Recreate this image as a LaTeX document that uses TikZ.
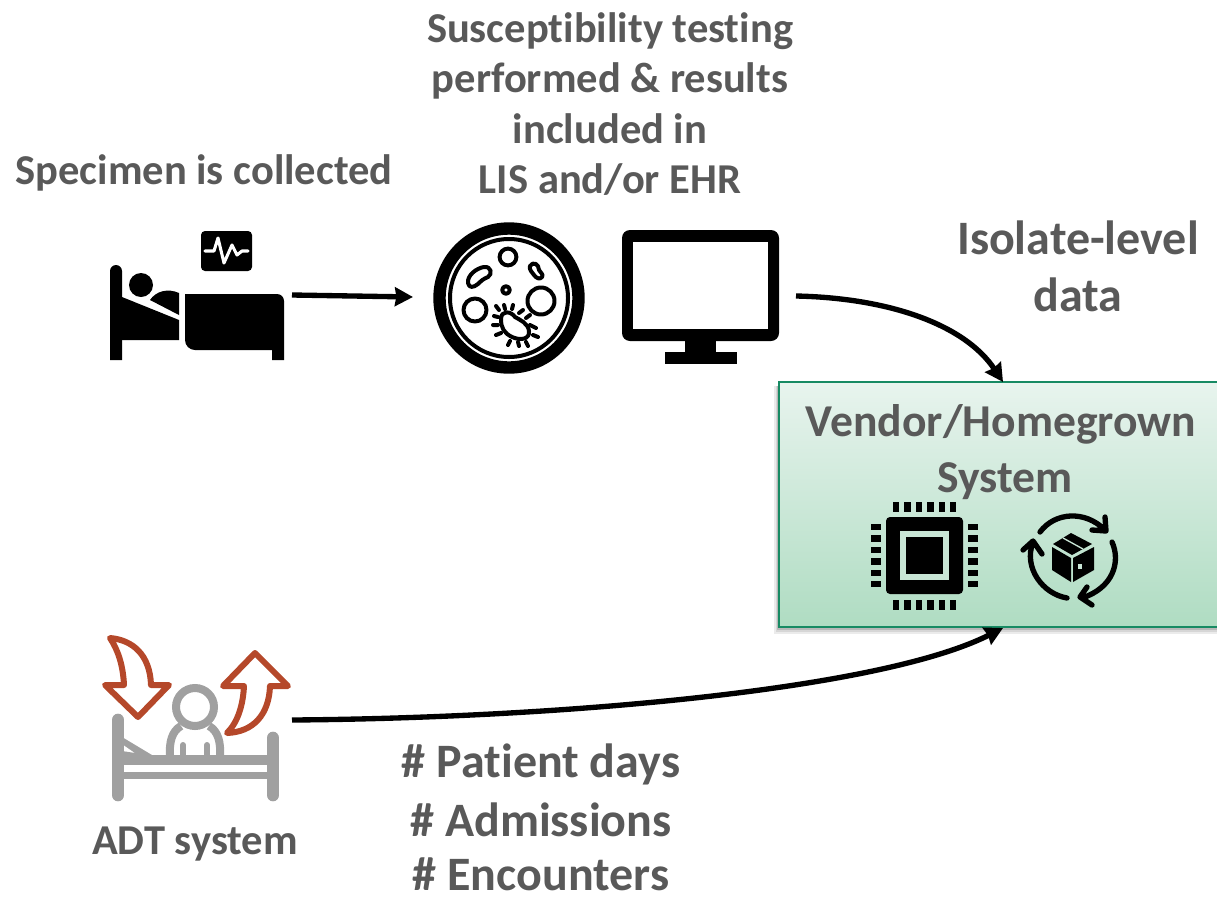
\documentclass[tikz,border=0pt]{standalone}
\usepackage{fontspec}
\setmainfont{Carlito}[RawFeature={-liga;-clig}]
\usetikzlibrary{arrows.meta}
\definecolor{txt}{HTML}{595959}
\definecolor{adtgray}{HTML}{A0A0A0}
\definecolor{adtred}{HTML}{B5482A}
\definecolor{boxline}{HTML}{178A63}
\definecolor{boxtopc}{HTML}{E8F4EE}
\definecolor{boxbotc}{HTML}{AFDCC2}
\definecolor{boxmidc}{HTML}{C9E6D6}
\tikzset{
  small/.style={font=\bfseries\fontsize{31.9}{34}\selectfont,text=txt,inner sep=0pt,anchor=center},
  big/.style={font=\bfseries\fontsize{36}{40}\selectfont,text=txt,inner sep=0pt,anchor=center},
  mid/.style={font=\bfseries\fontsize{34.2}{38}\selectfont,text=txt,inner sep=0pt,anchor=center},
  flow/.style={line width=4pt,-{Stealth[length=13.5pt,width=14pt,inset=1pt]}},
  rarrow/.style={draw=adtred,line width=4.5pt,line join=round},
}
\begin{document}
\begin{tikzpicture}[x=0.75pt,y=-0.75pt]
\useasboundingbox (0,0) rectangle (1217,896);
\clip (0,0) rectangle (1217,896);
% green box with soft shadow
\fill[black!8] (774,386) rectangle (1218,634);
\fill[black!16] (776,386) rectangle (1218,632);
\fill[black!28] (777,386) rectangle (1218,630);
\shade[top color=boxtopc,bottom color=boxbotc,draw=boxline,line width=1.9pt]
  (779,382) rectangle (1219,627);
\coordinate (boxtop) at (1003,382);
\coordinate (boxbot) at (1003,628);
% texts
\node[small] (t1) at (610,31) {Susceptibility testing};
\node[small] (t2) at (610,81) {performed \& results};
\node[small] (t3) at (610,129) {included in};
\node[small] (t4) at (610,180) {LIS and/or EHR};
\node[small] (t5) at (204,173) {Specimen is collected};
\node[big] (t6) at (1078,238) {Isolate-level};
\node[big] (t7) at (1078,295) {data};
\node[mid] (t8) at (1001,424) {Vendor/Homegrown};
\node[mid] (t9) at (1005,481) {System};
\node[small] (t10) at (195,844) {ADT system};
\node[big] (t11) at (541,764) {\# Patient days};
\node[big] (t12) at (541,820) {\# Admissions};
\node[big] (t13) at (541,874) {\# Encounters};
% patient bed icon
\fill (110,360) -- (110,271) arc[start angle=180,end angle=360,radius=6] -- (122,360) -- cycle;
\fill (110,297) -- (122,297) -- (179,320) -- (179,340) -- (110,340) -- cycle;
\fill (141,285) circle (12);
\fill (150,300) .. controls (156,291) and (168,288) .. (179,293) -- (179,315) -- cycle;
\fill (185,294) -- (277,294) arc[start angle=270,end angle=360,radius=7] -- (284,360) -- (272,360) -- (272,350) -- (195,350) arc[start angle=90,end angle=180,radius=10] -- cycle;
\fill[rounded corners=3pt] (201,231) rectangle (252,271);
\draw[white,line width=2.3pt,line cap=round,line join=round]
  (205,251) -- (214,251) -- (218,238) -- (224,263) -- (232,245) -- (237,255) -- (242,251) -- (248,251);
% petri dish
\draw[line width=9.3pt] (509,298) circle (69.5);
\draw[line width=3pt] (509,298) circle (59);
\begin{scope}[line width=3pt,line join=round]
\draw (508,257) circle (8.4);
\draw (506,290) circle (3.8);
\draw (541,301) circle (13.5);
\draw (475,310) circle (11.5);
\draw (468,283) .. controls (467,275) and (477,268) .. (484,267) .. controls (491,266) and (493,274) .. (488,277) .. controls (483,279) and (481,281) .. (478,284) .. controls (473,288) and (469,288) .. (468,283) -- cycle;
\draw (530,266) .. controls (533,261) and (539,264) .. (539,270) .. controls (540,273) and (544,274) .. (542,277) .. controls (540,280) and (536,278) .. (534,275) .. controls (532,272) and (529,270) .. (530,266) -- cycle;
\draw (501,319) .. controls (501,310) and (511,311) .. (515,317) .. controls (520,320) and (528,323) .. (529,331) .. controls (530,339) and (521,341) .. (512,337) .. controls (504,333) and (501,328) .. (501,319) -- cycle;
\end{scope}
\draw[line width=3pt,line cap=round]
  (499,310) -- (496,306) (505,309) -- (504,305) (512,309) -- (513,305) (519,313) -- (523,310)
  (526,318) -- (530,315) (530,325) -- (536,328) (533,335) -- (538,337) (526,342) -- (528,346)
  (518,342) -- (519,346) (510,341) -- (508,345) (501,333) -- (496,335) (498,325) -- (493,325) (498,317) -- (494,316);
% screen
\fill[rounded corners=6pt] (622,230) rectangle (779,341);
\fill[white] (633,242) rectangle (768,329);
\fill (685,340) rectangle (716,353);
\fill (665,352) rectangle (737,364);
% chip
\fill[rounded corners=3pt] (886,517) rectangle (963,594);
\fill[boxmidc] (900,531) rectangle (949,580);
\fill (906,537) rectangle (943,574);
\foreach \i in {0,...,5}{
  \fill ({893+11.4*\i},502) rectangle ++(6.3,10);
  \fill ({893+11.4*\i},600) rectangle ++(6.3,10);
  \fill (871,{524+11.4*\i}) rectangle ++(10,6.3);
  \fill (968,{524+11.4*\i}) rectangle ++(10,6.3);
}
% package cycle
\begin{scope}[shift={(1073,558)}]
\draw[line width=4pt,line cap=round,line join=round]
  (-33,-26) .. controls (-18,-46) and (12,-48) .. (32,-28)
  (32,-41) -- (33,-27) -- (19,-28)
  (39,-16) .. controls (48,4) and (40,30) .. (9,40)
  (14,29) -- (7,39) -- (19,47)
  (-6,40) .. controls (-30,36) and (-50,10) .. (-40,-16)
  (-50,-8) -- (-40,-17) -- (-31,-4);
\fill (-20,-14) -- (-2,-25) -- (19,-14) -- (-1,-3) -- cycle;
\fill (-21,-11) -- (-2,0) -- (-2,24) -- (-21,12) -- cycle;
\fill (0,0) -- (21,-11) -- (21,12) -- (0,24) -- cycle;
\draw[boxmidc,line width=1pt] (-10,-20) -- (10,-9);
\fill[boxmidc] (5,6) rectangle (9,11);
\end{scope}
% ADT icon
\draw[adtgray,line width=9.5pt,line cap=round] (118,720) -- (118,795);
\draw[adtgray,line width=9.5pt,line cap=round] (273,738) -- (273,795);
\fill[adtgray] (118,755) rectangle (273,765);
\fill[adtgray] (118,772) rectangle (273,779);
\fill[adtgray] (122,737) -- (152,755) -- (122,755) -- (122,751) -- (135,753) -- (122,744) -- cycle;
\draw[adtgray,line width=6pt] (195,707) circle (19);
\draw[adtgray,line width=6pt] (170,757) .. controls (169,742) and (172,731) .. (181,726)
  (209,726) .. controls (218,731) and (221,742) .. (220,757);
\draw[adtgray,line width=4.5pt,line cap=round] (183,745) -- (183,757) (207,745) -- (207,757);
\draw[rarrow] (110,638) .. controls (133,640) and (150,655) .. (151,685) -- (169,685) -- (138,717) -- (105,685) -- (124,685) .. controls (123,665) and (118,650) .. (110,638) -- cycle;
\draw[rarrow] (255,653) -- (288,686) -- (270,686) .. controls (269,715) and (253,732) .. (227,733) .. controls (238,722) and (243,705) .. (244,686) -- (223,686) -- cycle;
% connectors
\coordinate (bedout) at (292,295);
\coordinate (dishin) at (413,297);
\coordinate (screenout) at (796,296);
\coordinate (adtout) at (292,720);
\draw[flow] (bedout) -- (dishin);
\draw[flow] (screenout) .. controls (890,298) and (965,325) .. (boxtop);
\draw[flow] (adtout) .. controls (560,718) and (880,690) .. (boxbot);
\end{tikzpicture}
\end{document}
